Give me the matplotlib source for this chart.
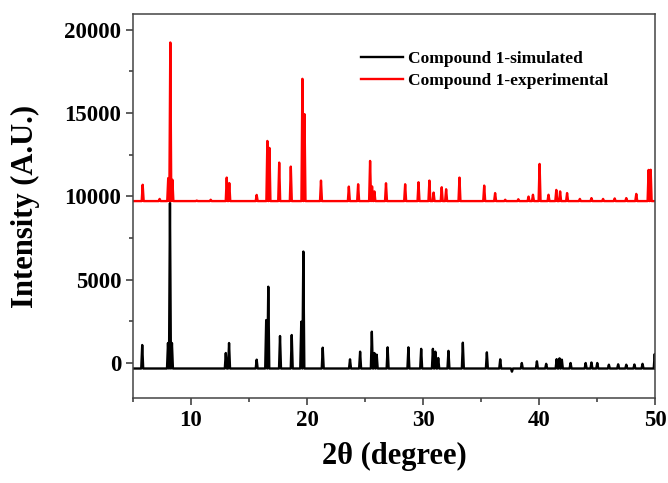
import numpy as np
from matplotlib import pyplot as plt
from matplotlib.ticker import MultipleLocator

# peak positions (2theta) and intensities
sim_base = -330
sim_pos = [5.80, 8.02, 8.19, 8.36, 13.0, 13.28, 15.66, 16.48, 16.66, 17.67, 18.68, 19.5, 19.68,
           21.35, 23.7, 24.57, 25.58, 25.8, 26.0, 26.94, 28.73, 29.83, 30.84, 31.05, 31.3, 32.18,
           33.42, 35.49, 36.64, 37.65, 38.5, 39.8, 40.6, 41.5, 41.75, 41.95, 42.7, 44.0, 44.5,
           45.0, 46.0, 46.8, 47.5, 48.2, 48.9, 49.95]
sim_int = [1080, 1200, 9600, 1200, 600, 1200, 200, 2580, 4580, 1620, 1680, 2480, 6690,
           920, 220, 680, 1880, 600, 500, 940, 940, 850, 850, 680, 300, 730,
           1220, 640, 220, -520, 0, 100, -50, 230, 280, 200, 0, 0, 30,
           0, -100, -80, -100, -90, -50, 540]

exp_base = 9720
exp_pos = [5.84, 7.3, 8.04, 8.22, 8.40, 10.5, 11.7, 13.08, 13.3, 15.66, 16.58, 16.76, 17.6,
           18.6, 19.6, 19.78, 21.2, 23.6, 24.4, 25.43, 25.6, 25.8, 26.8, 28.45, 29.6, 30.54,
           30.9, 31.6, 31.98, 33.13, 35.26, 36.2, 37.07, 38.2, 39.08, 39.46, 40.03, 40.8, 41.47,
           41.8, 42.4, 43.5, 44.5, 45.5, 46.5, 47.5, 48.36, 49.42, 49.6]
exp_int = [10700, 9850, 11100, 19240, 11000, 9750, 9800, 11130, 10800, 10090, 13330, 12910, 12030,
           11790, 17060, 14940, 10950, 10590, 10730, 12130, 10600, 10300, 10790, 10730, 10850, 10950,
           10230, 10550, 10430, 11130, 10650, 10200, 9800, 9830, 9990, 10100, 11950, 10100, 10390,
           10300, 10200, 9850, 9900, 9850, 9880, 9900, 10150, 11590, 11600]

labels = ["Compound 1-simulated", "Compound 1-experimental"]


def spikes(pos, inten, base, hw=0.085):
    xs, ys = [5.0], [base]
    for p, h in zip(pos, inten):
        xs += [p - hw, p, p + hw]
        ys += [base, h, base]
    xs.append(50.0)
    ys.append(base)
    return xs, ys


def main():
    plt.rcParams['font.family'] = ['Liberation Serif', 'DejaVu Serif']
    plt.rcParams['font.weight'] = 'bold'

    fig = plt.figure(figsize=(6.68, 4.83), dpi=100)
    ax = fig.add_axes([0.199, 0.176, 0.782, 0.795])

    x, y = spikes(sim_pos, sim_int, sim_base)
    ax.plot(x, y, color="black", lw=1.7, label=labels[0])
    x, y = spikes(exp_pos, exp_int, exp_base)
    ax.plot(x, y, color="#ff0000", lw=1.7, label=labels[1])

    ax.set_xlim(5, 50)
    ax.set_ylim(-2100, 20950)
    ax.xaxis.set_major_locator(MultipleLocator(10))
    ax.xaxis.set_minor_locator(MultipleLocator(5))
    ax.yaxis.set_major_locator(MultipleLocator(5000))
    ax.yaxis.set_minor_locator(MultipleLocator(2500))
    ax.tick_params(which='both', direction='out', color='#333333', width=1.1, labelsize=16.5)
    ax.tick_params(which='major', length=5)
    ax.tick_params(which='minor', length=3)
    for sp in ax.spines.values():
        sp.set_color('#444444')
        sp.set_linewidth(1.1)

    ax.set_xlabel("2θ (degree)", fontsize=22, fontweight='bold', labelpad=8)
    ax.set_ylabel("Intensity (A.U.)", fontsize=22, fontweight='bold')
    ax.yaxis.set_label_coords(-0.178, 0.5)

    ax.legend(loc='upper left', bbox_to_anchor=(0.437, 0.905), frameon=False,
              handlelength=2.4, handletextpad=0.3, labelspacing=0.35,
              borderpad=0, borderaxespad=0,
              prop={'weight': 'bold', 'size': 12.5})

    fig.savefig("out.png", dpi=100)


if __name__ == '__main__':
    main()
